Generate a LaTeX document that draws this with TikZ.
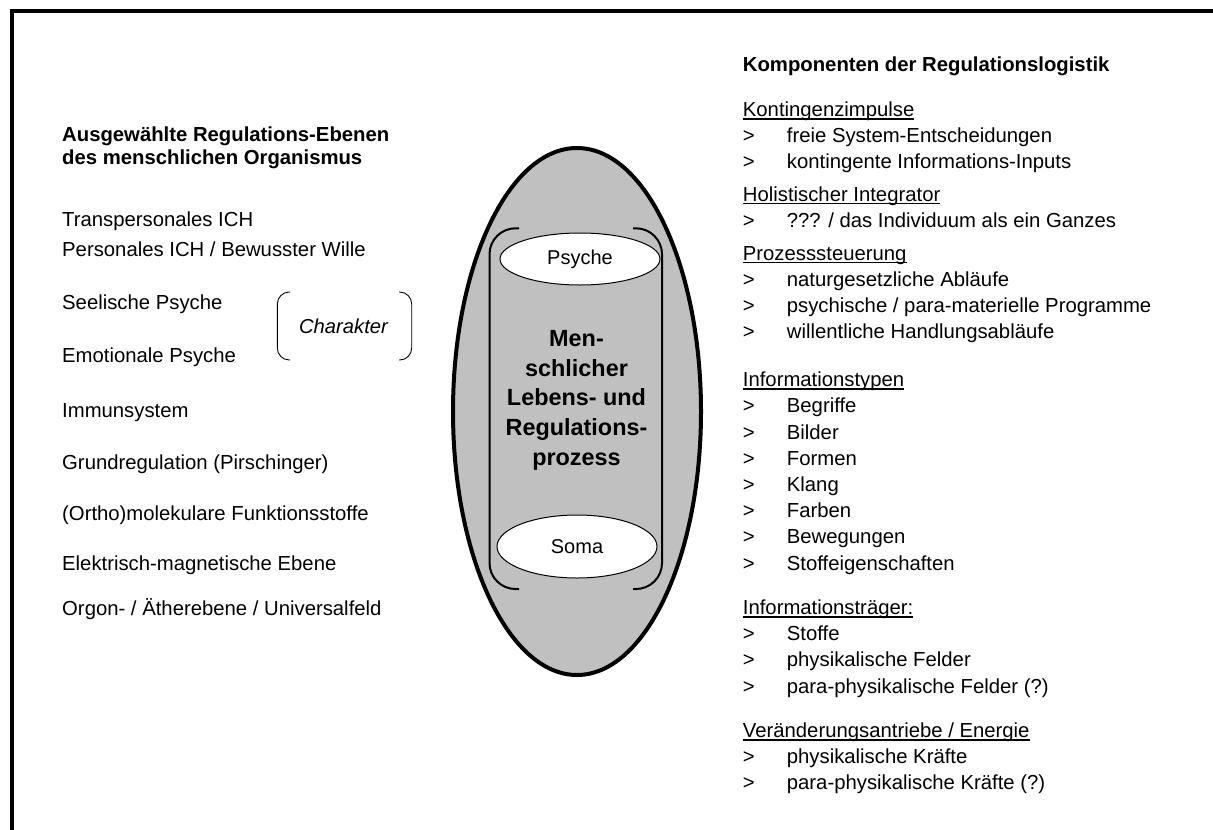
\documentclass[tikz,border=0pt]{standalone}
\usepackage{fontspec}
\setmainfont{Liberation Sans}
\usetikzlibrary{shapes.geometric}
\definecolor{bodygray}{HTML}{C0C0C0}
% underlined heading with the rule close under the baseline
\newcommand\ulhead[1]{\setbox0\hbox{#1}\rlap{\rule[-3pt]{\wd0}{1.3pt}}\box0}
% list item with a ">" marker
\newcommand\gtitem[1]{\makebox[44pt][l]{>}#1}
\begin{document}
\begin{tikzpicture}[x=1pt,y=-1pt,
  txt/.style={anchor=base west, inner sep=0pt, font=\fontsize{20.3}{24}\selectfont},
  headtxt/.style={txt, font=\fontsize{20.3}{24}\selectfont\bfseries},
  ctrtxt/.style={anchor=base, inner sep=0pt, font=\fontsize{23.4}{28}\selectfont\bfseries},
  pole/.style={ellipse, draw, line width=1pt, fill=white, inner sep=0pt, font=\fontsize{20}{24}\selectfont},
  bracketline/.style={line width=2pt, rounded corners=26pt},
  charline/.style={line width=0.9pt, rounded corners=12pt}]
\useasboundingbox (0,0) rectangle (1213,830);
\fill[white] (0,0) rectangle (1213,830);

% frame (left and top edges)
\draw[line width=4pt] (12,830) -- (12,11.3) -- (1213,11.3);

% left column
\node[headtxt] (lh1) at (62,141.7) {Ausgewählte Regulations-Ebenen};
\node[headtxt] (lh2) at (62,164.3) {des menschlichen Organismus};
\node[txt] (l1) at (62,226.7) {Transpersonales ICH};
\node[txt] (l2) at (62,256.7) {Personales ICH / Bewusster Wille};
\node[txt] (l3) at (62,309) {Seelische Psyche};
\node[txt] (l4) at (62,362) {Emotionale Psyche};
\node[txt] (l5) at (62,417) {Immunsystem};
\node[txt] (l6) at (62,469) {Grundregulation (Pirschinger)};
\node[txt] (l7) at (62,520) {(Ortho)molekulare Funktionsstoffe};
\node[txt] (l8) at (62,570) {Elektrisch-magnetische Ebene};
\node[txt] (l9) at (62,615) {Orgon- / Ätherebene / Universalfeld};

% character bracket
\draw[charline] (290,292) -- (277.3,292) -- (277.3,360) -- (290,360);
\draw[charline] (399,292) -- (411.7,292) -- (411.7,360) -- (399,360);
\node[anchor=base, inner sep=0pt, font=\fontsize{20.2}{24}\selectfont\itshape] (char) at (343.5,333) {Charakter};

% central body
\node[ellipse, draw, line width=4pt, fill=bodygray, minimum width=248pt, minimum height=527pt, inner sep=0pt] (body) at (577,411.5) {};
\draw[bracketline] (519,228.3) -- (489.5,228.3) -- (489.5,589) -- (519,589);
\draw[bracketline] (633,228.3) -- (662,228.3) -- (662,589) -- (633,589);
\node[pole, minimum width=160pt, minimum height=52pt] (psyche) at (580,259) {Psyche};
\node[pole, minimum width=160pt, minimum height=63pt] (soma) at (577,546.5) {Soma};
\node[ctrtxt] (c1) at (576.5,346.4) {Men-};
\node[ctrtxt] (c2) at (576.5,376.1) {schlicher};
\node[ctrtxt] (c3) at (576.5,405.9) {Lebens- und};
\node[ctrtxt] (c4) at (576.5,435.6) {Regulations-};
\node[ctrtxt] (c5) at (576.5,465.4) {prozess};

% right column
\node[headtxt] (rh) at (742.7,71.7) {Komponenten der Regulationslogistik};
\node[txt] (r1) at (742.7,116.5) {\ulhead{Kontingenzimpulse}};
\node[txt] (r2) at (742.7,142.6) {\gtitem{freie System-Entscheidungen}};
\node[txt] (r3) at (742.7,168.8) {\gtitem{kontingente Informations-Inputs}};
\node[txt] (r4) at (742.7,201.3) {\ulhead{Holistischer Integrator}};
\node[txt] (r5) at (742.7,227.5) {\gtitem{??? / das Individuum als ein Ganzes}};
\node[txt] (r6) at (742.7,260) {\ulhead{Prozesssteuerung}};
\node[txt] (r7) at (742.7,286.2) {\gtitem{naturgesetzliche Abläufe}};
\node[txt] (r8) at (742.7,312.4) {\gtitem{psychische / para-materielle Programme}};
\node[txt] (r9) at (742.7,338.6) {\gtitem{willentliche Handlungsabläufe}};
\node[txt] (r10) at (742.7,386.6) {\ulhead{Informationstypen}};
\node[txt] (r11) at (742.7,412.8) {\gtitem{Begriffe}};
\node[txt] (r12) at (742.7,439) {\gtitem{Bilder}};
\node[txt] (r13) at (742.7,465.2) {\gtitem{Formen}};
\node[txt] (r14) at (742.7,491.4) {\gtitem{Klang}};
\node[txt] (r15) at (742.7,517.6) {\gtitem{Farben}};
\node[txt] (r16) at (742.7,543.8) {\gtitem{Bewegungen}};
\node[txt] (r17) at (742.7,570) {\gtitem{Stoffeigenschaften}};
\node[txt] (r18) at (742.7,614.5) {\ulhead{Informationsträger:}};
\node[txt] (r19) at (742.7,640.7) {\gtitem{Stoffe}};
\node[txt] (r20) at (742.7,666.9) {\gtitem{physikalische Felder}};
\node[txt] (r21) at (742.7,693.1) {\gtitem{para-physikalische Felder (?)}};
\node[txt] (r22) at (742.7,737.6) {\ulhead{Veränderungsantriebe / Energie}};
\node[txt] (r23) at (742.7,763.7) {\gtitem{physikalische Kräfte}};
\node[txt] (r24) at (742.7,789.9) {\gtitem{para-physikalische Kräfte (?)}};
\end{tikzpicture}
\end{document}
